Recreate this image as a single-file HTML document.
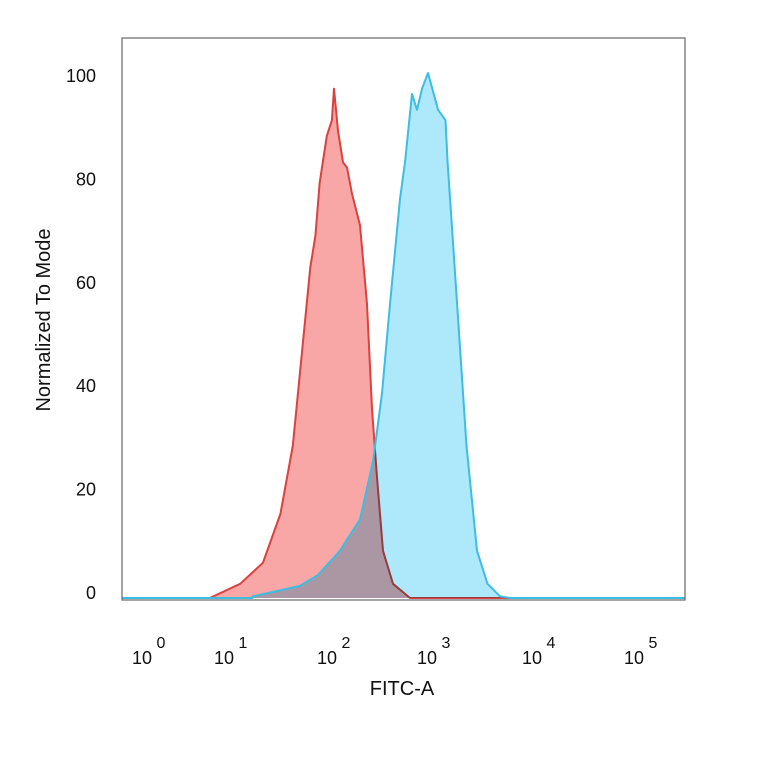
<!DOCTYPE html>
<html><head><meta charset="utf-8"><style>
body{margin:0;background:#fff;}
svg{display:block;font-family:"Liberation Sans",Arial,sans-serif;}
</style></head><body>
<svg id="chart" width="764" height="764" viewBox="0 0 764 764">
<rect x="0" y="0" width="764" height="764" fill="#fff"/>
<g id="plot"></g>
<rect x="122" y="38" width="563" height="562" fill="none" stroke="#666" stroke-width="1.2"/>
<g id="axes"></g>
<text x="50" y="320" font-size="20" text-anchor="middle" transform="rotate(-90 50 320)" fill="#111">Normalized To Mode</text>
<text x="402" y="695" font-size="20" text-anchor="middle" fill="#111">FITC-A</text>
</svg>
<script>
const yTicks=[0,20,40,60,80,100];
const xTickExps=[0,1,2,3,4,5];
const redX=[0.73,1.08,1.30,1.47,1.59,1.69,1.76,1.81,1.85,1.92,1.97,1.99,2.03,2.08,2.12,2.17,2.25,2.32,2.37,2.42,2.48,2.58,2.75];
const redY=[0,2.7,6.7,16,29,49,63,69,79,88,91,97,89,83,82,77,71,56,36,23,9,2.7,0];
const blueX=[1.20,1.66,1.83,2.05,2.25,2.38,2.47,2.55,2.65,2.70,2.77,2.82,2.87,2.93,3.03,3.10,3.12,3.21,3.30,3.40,3.50,3.62,3.72];
const blueY=[0.3,2.3,4.3,9,15,26,39,56,76,83,96,93,97,100,93,91,83,56,29,9,2.7,0.3,0];
const tickPx=[150,232,335,435,540,642];
function xs(v){let i=Math.min(Math.max(Math.floor(v),0),4);return tickPx[i]+(v-i)*(tickPx[i+1]-tickPx[i]);}
function ys(v){return 598-v*5.25;}
function yl(v){return 599-v*5.17;}
const NS="http://www.w3.org/2000/svg";
const plot=document.getElementById('plot'),axes=document.getElementById('axes');
function area(X,Y,fill,stroke,name,blend){
  let d='M122,'+ys(0)+' L'+xs(X[0])+','+ys(0);
  X.forEach((x,i)=>{d+=' L'+xs(x).toFixed(1)+','+ys(Y[i]).toFixed(1);});
  d+=' L685,'+ys(0);
  const f=document.createElementNS(NS,'path');
  f.setAttribute('d',d+' Z');f.setAttribute('fill',fill);
  if(blend)f.setAttribute('style','mix-blend-mode:multiply');
  
  
  plot.appendChild(f);
  const l=document.createElementNS(NS,'path');
  l.setAttribute('d',d);l.setAttribute('fill','none');l.setAttribute('stroke',stroke);l.setAttribute('stroke-width','2');l.setAttribute('stroke-linejoin','round');
  
  
  plot.appendChild(l);
}
area(redX,redY,'#f9a6a6','#d9423f','red-histogram',false);
area(blueX,blueY,'#aee8fb','#3cbde2','blue-histogram',true);
yTicks.forEach(t=>{
  const e=document.createElementNS(NS,'text');
  e.setAttribute('x',96);e.setAttribute('y',yl(t));e.setAttribute('font-size','18');e.setAttribute('text-anchor','end');e.setAttribute('fill','#111');
  e.textContent=t;
  
  
  axes.appendChild(e);
});
xTickExps.forEach(t=>{
  const e=document.createElementNS(NS,'text');
  e.setAttribute('x',xs(t)-8);e.setAttribute('y',664);e.setAttribute('font-size','18');e.setAttribute('text-anchor','middle');e.setAttribute('fill','#111');
  e.textContent='10';
  
  
  axes.appendChild(e);
  const s=document.createElementNS(NS,'text');
  s.setAttribute('x',xs(t)+11);s.setAttribute('y',648);s.setAttribute('font-size','16');s.setAttribute('text-anchor','middle');s.setAttribute('fill','#111');
  s.textContent=t;
  
  
  axes.appendChild(s);
});
</script>
</body></html>
